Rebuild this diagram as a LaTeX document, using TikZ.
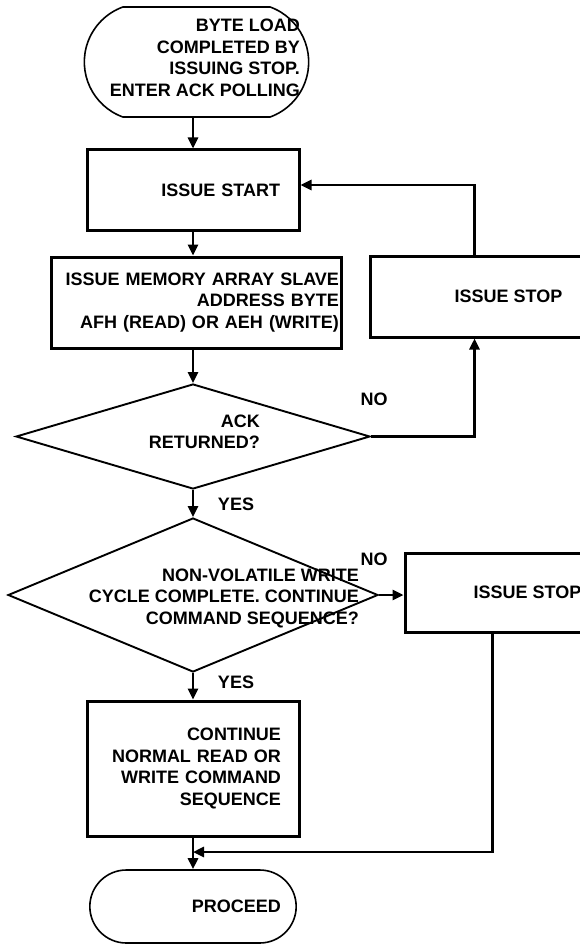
\documentclass[tikz,border=0pt]{standalone}
\usepackage{fontspec}
\setmainfont{Liberation Sans}
\usetikzlibrary{arrows.meta,shapes.geometric,shapes.misc}
\tikzset{
box/.style={
  draw,
  line width=3pt,
  inner ysep=0pt,
  align=right
  },
term/.style={rounded rectangle, draw, line width=1.6pt},
dec/.style={diamond, draw, line width=1.9pt, inner sep=0pt},
txt/.style={anchor=east, align=right, inner sep=0pt},
arr/.style={line width=2.6pt, -{Triangle[length=11pt,width=10pt]}}
}

\begin{document}
\begin{tikzpicture}[x=1pt, y=-1pt, font=\fontsize{18}{21.5}\selectfont\bfseries]
  \clip (0,0) rectangle (580,944);

  \node[term, rounded rectangle arc length=140, minimum width=231pt, minimum height=110pt] (load) at (196.5,62) {};
  \node[txt] (load-txt) at (300,58) {BYTE LOAD\\COMPLETED BY\\ISSUING STOP.\\ENTER ACK POLLING};

  \node[box, minimum width=212pt, minimum height=80pt, text width=174pt, inner xsep=19pt] (issue) at (193,190) {ISSUE START};
  \node[box, minimum width=290pt, minimum height=91pt, text width=286pt, inner xsep=2pt] (memory) at (196,302.5)
    {ISSUE MEMORY ARRAY SLAVE\\ADDRESS BYTE\\AFH (READ) OR AEH (WRITE)};
  \node[box, minimum width=277pt, minimum height=81pt] (stop1) at (508.5,296.5) {ISSUE STOP};

  \node[dec, minimum width=354pt, minimum height=105pt] (ack) at (193,436.5) {};
  \node[txt] (ack-txt) at (260,432) {ACK\\RETURNED?};

  \node[dec, minimum width=370pt, minimum height=154pt] (nvw) at (193,595) {};
  \node[txt] (nvw-txt) at (359,598) {NON-VOLATILE WRITE\\CYCLE COMPLETE. CONTINUE\\COMMAND SEQUENCE?};
  \node[box, minimum width=245pt, minimum height=79pt] (stop2) at (527.5,592.5) {ISSUE STOP};

  \node[box, minimum width=212pt, minimum height=135pt, text width=176pt, inner xsep=18pt] (cont) at (193,768.5)
    {CONTINUE\\NORMAL READ OR\\WRITE COMMAND\\SEQUENCE};

  \node[term, minimum width=213pt, minimum height=73pt] (proceed) at (193,906.5) {};
  \node[txt] (proceed-txt) at (281,906) {PROCEED};

  \node (no-ack) at (374,399) {NO};
  \node (yes-ack) at (236,504) {YES};
  \node (no-nvw) at (374,559) {NO};
  \node (yes-nvw) at (236,682) {YES};

  \draw[arr] (issue.north |- load.south) -- (issue.north);
  \draw[arr] (issue.south) -- (issue.south |- memory.north);
  \draw[arr] (ack.north |- memory.south) -- (ack.north);
  \draw[arr] (ack.south) -- (nvw.north);
  \draw[arr] (nvw.south) -- (cont.north);
  \draw[arr] (cont.south) -- (proceed.north);

  \draw[arr] (ack.east) -| ([xshift=106pt]stop1.south west);
  \draw[arr] ([xshift=106pt]stop1.north west) |- ([yshift=5pt]issue.east);

  \draw[arr] (nvw.east) -- (nvw.east -| stop2.west);
  \coordinate (merge) at (193,852);
  \draw[arr] ([xshift=89pt]stop2.south west) |- (merge);

\end{tikzpicture}
\end{document}
